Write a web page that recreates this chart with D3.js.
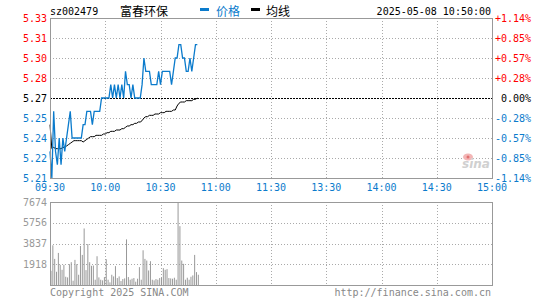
<!DOCTYPE html>
<html>
<head>
<meta charset="utf-8">
<script src="https://cdn.jsdelivr.net/npm/d3@7"></script>
<style>
  body { margin: 0; background: #fff; }
  text { font-family: "DejaVu Sans Mono", monospace; font-size: 10px; }
</style>
</head>
<body>
<div class="chart"></div>
<script>
// intraday data, one value per minute from 09:30 to 10:50
const prices = [5.23,5.21,5.26,5.23,5.22,5.24,5.22,5.24,5.23,5.24,
  5.25,5.26,5.24,5.24,5.24,5.24,5.24,5.24,5.25,5.25,
  5.26,5.26,5.26,5.25,5.26,5.26,5.26,5.26,5.27,5.27,
  5.27,5.27,5.27,5.28,5.27,5.28,5.27,5.28,5.27,5.28,
  5.27,5.29,5.28,5.28,5.27,5.28,5.27,5.27,5.27,5.27,
  5.28,5.30,5.29,5.29,5.29,5.28,5.28,5.28,5.28,5.29,
  5.28,5.29,5.29,5.29,5.29,5.29,5.28,5.29,5.30,5.30,
  5.31,5.31,5.30,5.30,5.29,5.29,5.30,5.29,5.30,5.31,5.31]
const avgPrices = [5.250,5.232,5.233,5.232,5.232,5.232,5.232,5.233,5.233,5.234,
  5.235,5.236,5.237,5.238,5.238,5.238,5.238,5.238,5.237,5.238,
  5.239,5.240,5.241,5.241,5.241,5.242,5.242,5.242,5.242,5.243,
  5.243,5.244,5.244,5.245,5.245,5.245,5.246,5.246,5.246,5.247,
  5.247,5.248,5.249,5.249,5.250,5.250,5.251,5.251,5.252,5.252,
  5.253,5.255,5.256,5.256,5.257,5.257,5.257,5.258,5.258,5.258,
  5.259,5.259,5.259,5.260,5.260,5.260,5.260,5.261,5.261,5.264,
  5.266,5.267,5.267,5.267,5.268,5.268,5.268,5.268,5.269,5.269,5.270]
const volumes = [1315,3669,2415,1223,2966,1865,1406,1865,764,703,
  1926,2110,397,2323,1926,948,3608,2782,5228,1376,
  3791,2110,1773,1804,489,2660,703,489,428,734,
  2385,489,245,948,795,1743,642,795,367,550,
  611,4219,734,489,581,642,306,581,1651,489,
  3210,2415,2262,1345,2201,489,428,550,489,642,
  703,1559,1406,1467,642,611,581,673,489,7674,
  5442,2262,1957,489,673,489,764,887,2782,1192,948]

const prevClose = 5.27
const priceTicks = [5.33,5.315,5.30,5.285,5.27,5.255,5.24,5.225,5.21]
const priceLabels = ["5.33","5.31","5.30","5.28","5.27","5.25","5.24","5.22","5.21"]
const pctLabels = ["+1.14%","+0.85%","+0.57%","+0.28%"," 0.00%","-0.28%","-0.57%","-0.85%","-1.14%"]
const timeTicks = [0,30,60,90,120,150,180,210,240]
const timeLabels = ["09:30","10:00","10:30","11:00","11:30","13:30","14:00","14:30","15:00"]
const volTicks = [7674,5756,3837,1918]

const red = "#f00", blue = "#0b7bcc", grid = "#aaa"

const svg = d3.select(".chart").append("svg")
  .attr("width", 545).attr("height", 300)

const x = d3.scaleLinear().domain([0, 240]).range([50, 492])
const y = d3.scaleLinear().domain([5.21, 5.33]).range([178, 18])
const yv = d3.scaleLinear().domain([0, 7674]).range([285, 202])

// header
svg.append("text").attr("x", 50).attr("y", 15).text("sz002479")
svg.append("text").attr("x", 120).attr("y", 16)
  .style("font-family", "'Noto Sans CJK SC', sans-serif").style("font-size", "12px")
  .text("富春环保")
svg.append("rect").attr("x", 200).attr("y", 8).attr("width", 9).attr("height", 3).attr("fill", blue)
svg.append("text").attr("x", 216).attr("y", 16).attr("fill", blue)
  .style("font-family", "'Noto Sans CJK SC', sans-serif").style("font-size", "12px")
  .text("价格")
svg.append("rect").attr("x", 251).attr("y", 8).attr("width", 9).attr("height", 3).attr("fill", "#000")
svg.append("text").attr("x", 266).attr("y", 16)
  .style("font-family", "'Noto Sans CJK SC', sans-serif").style("font-size", "12px")
  .text("均线")
svg.append("text").attr("x", 491).attr("y", 15).attr("text-anchor", "end")
  .text("2025-05-08 10:50:00")

// price panel grid
const g = svg.append("g")
g.selectAll(".hgrid").data(priceTicks.slice(1, -1)).enter().append("line")
  .attr("x1", 50).attr("x2", 492)
  .attr("y1", d => Math.round(y(d)) + 0.5).attr("y2", d => Math.round(y(d)) + 0.5)
  .attr("stroke", d => d === prevClose ? "#000" : grid)
  .attr("stroke-dasharray", d => d === prevClose ? "2,1" : "1,2")
g.selectAll(".vgrid").data(timeTicks.slice(1, -1)).enter().append("line")
  .attr("x1", d => Math.round(x(d)) + 0.5).attr("x2", d => Math.round(x(d)) + 0.5)
  .attr("y1", 18).attr("y2", 178)
  .attr("stroke", grid).attr("stroke-dasharray", "1,2")

// sina watermark
svg.append("ellipse").attr("cx", 468).attr("cy", 157).attr("rx", 5).attr("ry", 3.5)
  .attr("fill", "#f3b6b6")
svg.append("circle").attr("cx", 468).attr("cy", 157).attr("r", 1.5).attr("fill", "#e07070")
svg.append("text").attr("x", 462).attr("y", 168)
  .style("font-family", "'DejaVu Sans', sans-serif").style("font-size", "12px")
  .style("font-style", "italic").style("font-weight", "bold")
  .attr("fill", "#d0d0d0").text("sina")

// price lines
const line = d3.line().x((d, i) => x(i)).y(d => y(d))
svg.append("path").datum(avgPrices).attr("d", line)
  .attr("fill", "none").attr("stroke", "#000").attr("stroke-width", 1)
svg.append("path").datum(prices).attr("d", line)
  .attr("fill", "none").attr("stroke", blue).attr("stroke-width", 1.3)

svg.append("rect").attr("x", 50.5).attr("y", 18.5).attr("width", 442).attr("height", 160)
  .attr("fill", "none").attr("stroke", "#999")

// price axis labels
const colorOf = d => d > prevClose ? red : (d < prevClose ? blue : "#000")
svg.selectAll(".plab").data(priceTicks).enter().append("text")
  .attr("x", 47).attr("y", d => y(d) + 3.5).attr("text-anchor", "end")
  .attr("fill", colorOf).text((d, i) => priceLabels[i])
svg.selectAll(".pct").data(priceTicks).enter().append("text")
  .attr("x", 495).attr("y", d => y(d) + 3.5).style("white-space", "pre")
  .attr("fill", colorOf).text((d, i) => pctLabels[i])

// time labels
svg.selectAll(".tlab").data(timeTicks).enter().append("text")
  .attr("x", d => x(d)).attr("y", 191).attr("text-anchor", "middle")
  .attr("fill", blue).text((d, i) => timeLabels[i])

// volume panel
svg.selectAll(".vh").data(volTicks.slice(1)).enter().append("line")
  .attr("x1", 50).attr("x2", 492)
  .attr("y1", d => Math.round(yv(d)) + 0.5).attr("y2", d => Math.round(yv(d)) + 0.5)
  .attr("stroke", grid).attr("stroke-dasharray", "1,2")
svg.selectAll(".vv").data(timeTicks.slice(1, -1)).enter().append("line")
  .attr("x1", d => Math.round(x(d)) + 0.5).attr("x2", d => Math.round(x(d)) + 0.5)
  .attr("y1", 202).attr("y2", 285)
  .attr("stroke", grid).attr("stroke-dasharray", "1,2")
svg.selectAll(".vbar").data(volumes).enter().append("rect")
  .attr("x", (d, i) => x(i) + 0.5).attr("width", 1)
  .attr("y", d => yv(d)).attr("height", d => 285 - yv(d))
  .attr("fill", "#999")
svg.append("rect").attr("x", 50.5).attr("y", 202.5).attr("width", 442).attr("height", 83)
  .attr("fill", "none").attr("stroke", "#999")
svg.selectAll(".vlab").data(volTicks).enter().append("text")
  .attr("x", 47).attr("y", d => yv(d) + 3.5).attr("text-anchor", "end")
  .attr("fill", "#999").text(d => d)

// footer
svg.append("text").attr("x", 50).attr("y", 296).attr("fill", "#888")
  .text("Copyright 2025 SINA.COM")
svg.append("text").attr("x", 491).attr("y", 296).attr("text-anchor", "end").attr("fill", "#888")
  .text("http://finance.sina.com.cn")
</script>
</body>
</html>
